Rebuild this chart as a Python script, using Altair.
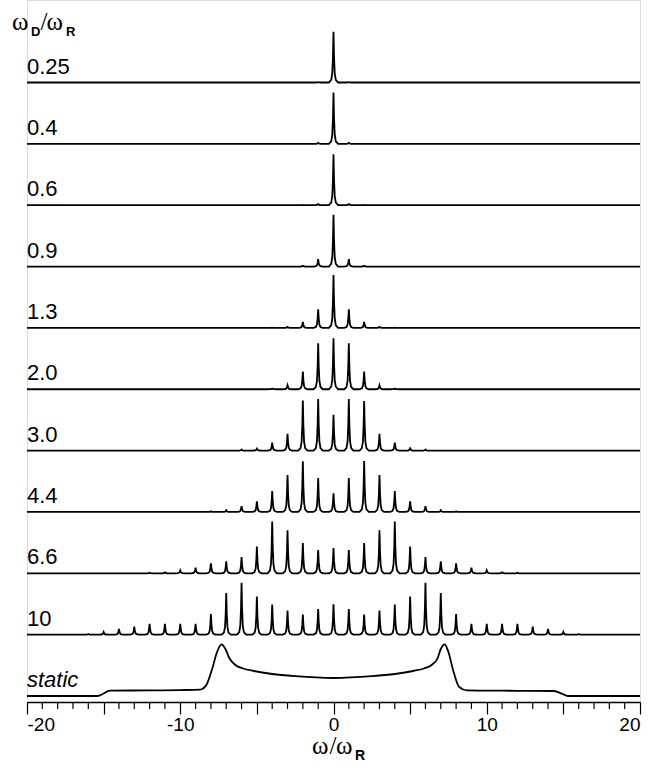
import altair as alt
import pandas as pd

# ---------------- data ----------------
ROW_LABELS = ["0.25", "0.4", "0.6", "0.9", "1.3", "2.0", "3.0", "4.4", "6.6", "10"]

# sideband intensities (px-like units), listed left to right for n = -k .. k
I_025 = [0.3, 50.7, 0.3]
I_04 = [1.0, 51.3, 1.0]
I_06 = [0.2, 1.2, 51.0, 1.2, 0.2]
I_09 = [0.8, 7.3, 51.7, 7.3, 0.8]
I_13 = [0.3, 1.0, 6.0, 18.7, 53.0, 18.7, 6.0, 1.0, 0.3]
I_20 = [0.7, 4.0, 17.7, 46.0, 51.0, 46.0, 17.7, 4.0, 0.7]
I_30 = [1.0, 2.0, 8.0, 16.7, 50.0, 51.7, 35.7, 51.7, 49.7, 16.7, 8.0, 2.3, 1.0]
I_44 = [0.7, 1.7, 5.7, 10.7, 21.0, 37.0, 50.7, 34.0, 18.7, 34.0, 51.0, 37.0, 21.0,
        10.7, 5.7, 1.7, 0.7]
I_66 = [0.5, 1.0, 3.0, 5.7, 10.0, 12.0, 16.3, 26.7, 51.7, 43.0, 30.3, 23.3, 25.3,
        23.3, 30.3, 43.0, 51.7, 26.7, 16.3, 12.0, 10.0, 5.7, 3.0, 1.0, 0.5]
I_10 = [0.7, 2.7, 5.7, 8.0, 10.7, 10.7, 10.7, 10.7, 20.7, 41.7, 52.0, 38.0, 30.0,
        24.0, 20.0, 25.7, 30.3, 25.7, 20.0, 24.0, 30.0, 38.0, 52.0, 41.7, 20.7,
        10.7, 10.7, 10.7, 10.7, 8.0, 5.7, 2.7, 0.7]
SPECTRA = [I_025, I_04, I_06, I_09, I_13, I_20, I_30, I_44, I_66, I_10]

# static powder pattern
STATIC_LABEL = "static"
STATIC_X = [-20, -15.4, -15.0, -14.6, -12.0, -10.0, -8.7, -8.3, -7.9, -7.6, -7.3,
            -7.05, -6.8, -6.4, -5.9, -5.2, -4.0, -2.5, 0.0, 2.5, 4.0, 5.2, 5.9, 6.4,
            6.8, 7.0, 7.25, 7.5, 7.8, 8.2, 8.7, 10.0, 12.0, 14.4, 14.9, 15.3, 20]
STATIC_Y = [0, 0, 2.5, 5.4, 5.6, 5.9, 6.4, 11.0, 28.0, 44.0, 51.7,
            47.0, 38.0, 31.0, 27.5, 25.0, 22.0, 19.8, 18.0, 19.8, 22.0, 25.0, 27.5, 31.0,
            38.0, 47.0, 51.7, 44.0, 26.0, 9.0, 5.6, 5.4, 5.2, 5.0, 2.3, 0, 0]

MAJOR_TICKS = list(range(-20, 21, 5))
MINOR_TICKS = [v for v in range(-20, 21) if v % 5 != 0]

# ---------------- layout / style constants ----------------
PLOT_H = 702
TOP_BASE = 82.5
ROW_STEP = 61.35
PEAK_DX = [-0.3, -0.15, -0.08, -0.035, 0.0, 0.035, 0.08, 0.15, 0.3]
PEAK_F = [0.0, 0.05, 0.18, 0.5, 1.0, 0.5, 0.18, 0.05, 0.0]


def base_of(i):
    return PLOT_H - (TOP_BASE + ROW_STEP * i)


rows = []
for i, ints in enumerate(SPECTRA):
    b = base_of(i)
    k = (len(ints) - 1) // 2
    seq = 0
    rows.append({"row": i, "seq": seq, "x": -20.0, "y": b}); seq += 1
    for j, h in enumerate(ints):
        n = j - k
        for dx, f in zip(PEAK_DX, PEAK_F):
            rows.append({"row": i, "seq": seq, "x": n + dx, "y": b + h * f}); seq += 1
    rows.append({"row": i, "seq": seq, "x": 20.0, "y": b})
spec_df = pd.DataFrame(rows)

sb = base_of(10)
static_df = pd.DataFrame({"x": STATIC_X, "y": [sb + v for v in STATIC_Y],
                          "seq": list(range(len(STATIC_X)))})

lab_df = pd.DataFrame({"label": ROW_LABELS,
                       "x": [-20] * len(ROW_LABELS),
                       "y": [base_of(i) for i in range(len(ROW_LABELS))]})
static_lab_df = pd.DataFrame({"label": [STATIC_LABEL], "x": [-20], "y": [sb]})
minor_df = pd.DataFrame({"x": MINOR_TICKS})

xscale = alt.Scale(domain=[-20, 20], nice=False, zero=False)
yscale = alt.Scale(domain=[0, PLOT_H], nice=False, zero=False)

xaxis = alt.Axis(
    values=MAJOR_TICKS,
    labelExpr="datum.value % 10 === 0 ? '' + datum.value : ''",
    tickSize=12, tickColor="black", tickWidth=1.2,
    domainColor="black", domainWidth=1.4,
    labelFont="Liberation Sans", labelFontSize=19, labelColor="black",
    labelPadding=1, labelOverlap=False, grid=False, title=None,
)


def X():
    return alt.X("x:Q", scale=xscale, axis=xaxis)


def Y():
    return alt.Y("y:Q", scale=yscale, axis=None)


lines = alt.Chart(spec_df).mark_line(color="black", strokeWidth=1.8).encode(
    x=X(), y=Y(), detail="row:N", order="seq:Q",
)

static_line = alt.Chart(static_df).mark_line(
    color="black", strokeWidth=1.8, interpolate="monotone").encode(
    x=X(), y=Y(), order="seq:Q",
)

minor = alt.Chart(minor_df).mark_rule(color="black", strokeWidth=1.2).encode(
    x=X(), y=alt.value(PLOT_H), y2=alt.value(PLOT_H + 7),
)

labels = alt.Chart(lab_df).mark_text(
    align="left", baseline="alphabetic", dy=-9, font="Liberation Sans",
    fontSize=22, color="black").encode(x=X(), y=Y(), text="label:N")

static_lab = alt.Chart(static_lab_df).mark_text(
    align="left", baseline="alphabetic", dy=-9, font="Liberation Sans",
    fontSize=22, fontStyle="italic", color="black").encode(x=X(), y=Y(), text="label:N")

one = pd.DataFrame({"a": [0]})


def piece(txt, px, py, size, font="Liberation Serif", weight="normal"):
    return alt.Chart(one).mark_text(
        text=txt, align="left", baseline="alphabetic", font=font,
        fontSize=size, fontWeight=weight, color="black").encode(
        x=alt.value(px), y=alt.value(py))


# plot origin is at page x = 27
title_pieces = [
    piece("\u03c9", -15, 30, 25),
    piece("D", 4, 36, 13, font="Liberation Sans", weight="bold"),
    piece("/", 13.5, 30, 25),
    piece("\u03c9", 19.5, 30, 25),
    piece("R", 39, 36, 13, font="Liberation Sans", weight="bold"),
]
xtitle_pieces = [
    piece("\u03c9", 285, 754, 25),
    piece("/", 302.5, 754, 25),
    piece("\u03c9", 309, 754, 25),
    piece("R", 328, 760, 14, font="Liberation Sans", weight="bold"),
]

chart = alt.layer(lines, static_line, minor, labels, static_lab,
                  *title_pieces, *xtitle_pieces).properties(
    width=613, height=PLOT_H,
    autosize=alt.AutoSizeParams(type="none"),
    padding={"left": 27, "right": 9, "top": 0, "bottom": 80},
).configure_view(stroke=None).configure(background="white")

chart.save("out.html", embed_options={"renderer": "svg", "actions": False})
